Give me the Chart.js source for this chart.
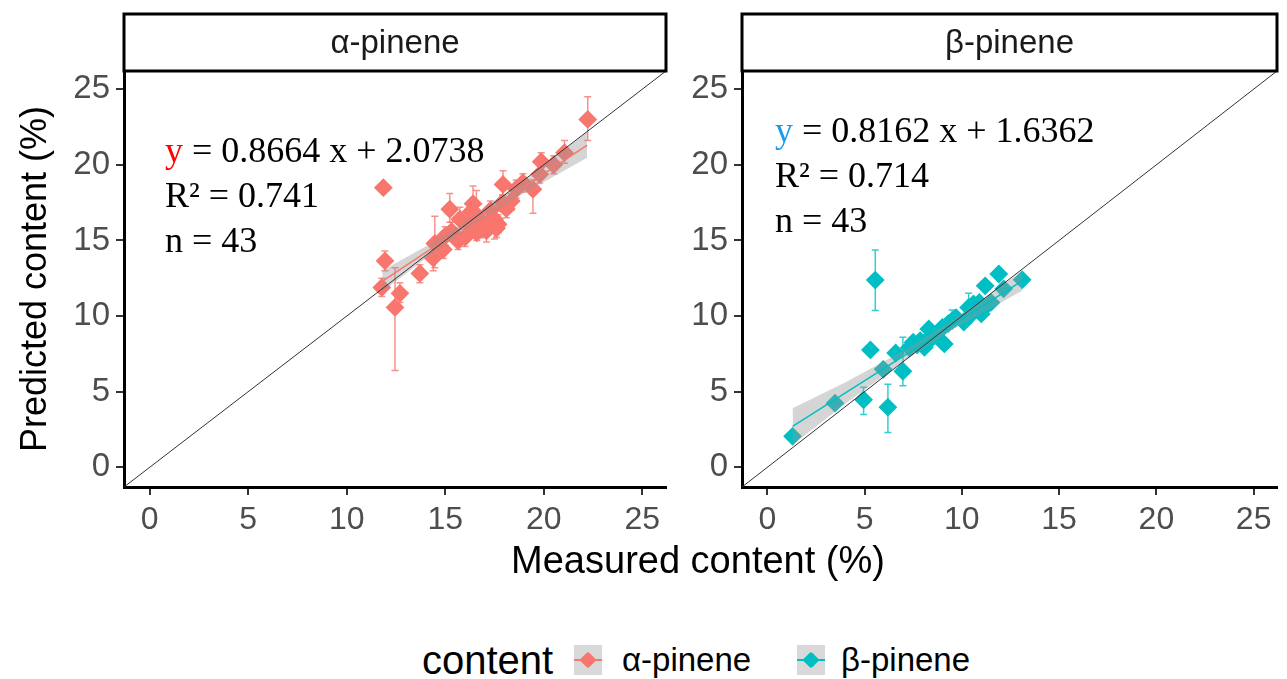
<!DOCTYPE html>
<html>
<head>
<meta charset="utf-8">
<script src="https://cdn.jsdelivr.net/npm/chart.js@4.4.0/dist/chart.umd.min.js"></script>
<style>
  body { margin: 0; background: #fff; width: 1287px; height: 679px; position: relative; overflow: hidden; font-family: 'Liberation Sans', Arial, sans-serif; }
  #wrapA { position: absolute; left: 0; top: 0; width: 680px; height: 550px; }
  #wrapB { position: absolute; left: 680px; top: 0; width: 607px; height: 550px; }
  #xtitle { position: absolute; left: 698px; top: 541px; transform: translateX(-50%); font-size: 38px; line-height: 38px; color: #000; white-space: nowrap; }
  .leg { position: absolute; top: 640px; line-height: 40px; white-space: nowrap; color: #000; }
  .key { position: absolute; top: 645px; width: 28px; height: 30px; background: #d9d9d9; }
  .key .ln { position: absolute; left: 0; right: 0; top: 14px; height: 2px; }
  .key .dm { position: absolute; left: 8px; top: 9px; width: 12px; height: 12px; border-radius: 2px; transform: rotate(45deg); }
</style>
</head>
<body>
<div id="wrapA"><canvas id="chartA"></canvas></div>
<div id="wrapB"><canvas id="chartB"></canvas></div>
<div id="xtitle">Measured content (%)</div>
<div class="leg" style="left:422px;font-size:40px;">content</div>
<div class="key" style="left:574px;"><div class="ln" style="background:#F8766D"></div><div class="dm" style="background:#F8766D"></div></div>
<div class="leg" style="left:622px;font-size:33px;">α-pinene</div>
<div class="key" style="left:797px;"><div class="ln" style="background:#00BFC4"></div><div class="dm" style="background:#00BFC4"></div></div>
<div class="leg" style="left:841px;font-size:33px;">β-pinene</div>
<script>
const tickVals = [0, 5, 10, 15, 20, 25];
const axisMin = -1.3;
const axisMax = 26.2;
const diagX = [-1.3, 26.2];

// α-pinene: measured, predicted, error bar low / high
const alphaX  = [11.86, 11.94, 11.78, 12.70, 12.45, 13.71, 14.39, 14.47, 15.23, 15.74, 15.32, 15.65, 16.00, 16.41, 16.58, 16.92, 17.26, 17.50, 17.09, 16.75, 17.68, 17.93, 18.35, 18.94, 19.45, 19.79, 19.87, 21.05, 22.23, 16.20, 17.90, 18.60, 15.00, 17.30, 16.60, 18.10, 20.50, 16.30, 14.90, 17.60];
const alphaY  = [18.49, 13.65, 11.89, 11.50, 10.57, 12.82, 13.83, 14.80, 17.06, 16.40, 15.60, 14.97, 15.20, 17.43, 16.70, 16.07, 16.30, 16.40, 15.63, 15.85, 16.07, 18.70, 17.60, 18.82, 18.38, 19.37, 20.20, 20.80, 23.00, 16.10, 17.50, 18.40, 15.30, 17.00, 15.50, 17.10, 20.00, 16.90, 14.40, 15.80];
const alphaLo = [18.49, 13.00, 11.30, 10.90, 6.40, 12.20, 13.00, 13.20, 16.20, 15.70, 15.00, 14.40, 14.60, 16.80, 16.00, 15.20, 15.50, 15.10, 14.90, 15.20, 15.50, 18.00, 17.00, 18.20, 16.80, 18.80, 19.60, 20.10, 21.60, 15.50, 16.90, 17.80, 14.70, 16.40, 15.00, 16.50, 19.40, 16.30, 13.80, 15.20];
const alphaHi = [18.49, 14.30, 12.50, 12.20, 13.20, 13.40, 14.60, 16.60, 18.10, 17.20, 16.20, 15.50, 15.80, 18.60, 18.30, 16.80, 17.00, 17.20, 16.30, 16.50, 16.70, 19.60, 18.10, 19.40, 19.00, 20.00, 20.80, 21.60, 24.50, 16.70, 18.00, 19.00, 15.90, 17.60, 16.00, 17.70, 20.60, 17.50, 15.00, 16.40];
const alphaFitX = [11.8, 22.2];
const alphaFitY = [12.3, 21.3];
const alphaBandX  = [11.8, 14.0, 16.5, 19.0, 22.2];
const alphaBandUp = [13.0, 14.6, 16.62, 18.94, 22.16];
const alphaBandLo = [11.6, 13.8, 16.12, 18.14, 20.46];

// β-pinene
const betaX  = [1.30, 3.48, 4.95, 6.20, 5.55, 5.30, 5.96, 6.60, 6.97, 7.50, 7.86, 8.30, 8.08, 7.70, 9.10, 9.00, 9.50, 10.10, 10.35, 10.60, 11.00, 11.10, 11.20, 11.90, 13.10, 12.15, 8.78, 9.70, 10.40, 8.50, 7.30, 10.90, 11.50, 9.30, 8.20];
const betaY  = [2.05, 4.24, 4.47, 3.98, 12.38, 7.76, 6.48, 7.56, 6.35, 8.27, 8.38, 9.15, 7.94, 8.10, 8.16, 9.25, 9.70, 9.60, 10.57, 10.80, 10.14, 10.47, 12.00, 12.78, 12.40, 11.80, 8.93, 9.90, 10.00, 8.60, 7.90, 10.90, 10.90, 9.50, 8.40];
const betaLo = [1.80, 4.00, 3.50, 2.30, 10.36, 7.60, 6.30, 7.30, 5.40, 7.90, 8.00, 8.80, 7.60, 7.80, 7.80, 8.90, 9.30, 9.30, 10.20, 10.50, 9.80, 10.10, 11.70, 12.50, 12.10, 11.50, 8.60, 9.60, 9.70, 8.30, 7.60, 10.60, 10.60, 9.20, 8.10];
const betaHi = [2.30, 4.50, 5.30, 5.50, 14.36, 7.90, 6.70, 7.80, 8.60, 8.60, 8.70, 9.50, 8.30, 8.40, 8.50, 9.60, 10.40, 9.90, 11.50, 11.10, 10.50, 10.80, 12.30, 13.10, 12.70, 12.10, 9.20, 10.20, 10.30, 8.90, 8.20, 11.20, 11.20, 9.80, 8.70];
const betaFitX = [1.3, 13.1];
const betaFitY = [2.70, 12.33];
const betaBandX  = [1.3, 4.0, 7.0, 9.5, 13.1];
const betaBandUp = [3.9, 5.6, 7.7, 9.69, 12.98];
const betaBandLo = [1.5, 4.2, 7.0, 9.09, 11.68];

const red = '#F8766D';
const teal = '#00BFC4';
const sans = "'Liberation Sans', Arial, sans-serif";

const pts = (xs, ys) => xs.map((x, i) => ({ x: x, y: ys[i] }));

// strip label above each panel
const stripPlugin = {
  id: 'strip',
  afterDraw(chart, args, opts) {
    const { ctx, chartArea } = chart;
    ctx.save();
    ctx.fillStyle = '#fff';
    ctx.strokeStyle = '#000';
    ctx.lineWidth = 3;
    ctx.fillRect(chartArea.left, 14, chartArea.right - chartArea.left, chartArea.top - 14);
    ctx.strokeRect(chartArea.left, 14, chartArea.right - chartArea.left, chartArea.top - 14);
    ctx.fillStyle = '#1a1a1a';
    ctx.font = '33px ' + sans;
    ctx.textAlign = 'center';
    ctx.textBaseline = 'middle';
    ctx.fillText(opts.text, (chartArea.left + chartArea.right) / 2, (14 + chartArea.top) / 2 + 1);
    ctx.restore();
  }
};

// vertical error bars with caps
const errPlugin = {
  id: 'errbars',
  beforeDatasetsDraw(chart) {
    const { ctx, scales } = chart;
    chart.data.datasets.forEach(ds => {
      if (!ds.errLo) return;
      ctx.save();
      ctx.strokeStyle = ds.borderColor;
      ctx.globalAlpha = 0.8;
      ctx.lineWidth = 1.5;
      ds.data.forEach((p, i) => {
        if (ds.errLo[i] === ds.errHi[i]) return;
        const px = scales.x.getPixelForValue(p.x);
        const y1 = scales.y.getPixelForValue(ds.errLo[i]);
        const y2 = scales.y.getPixelForValue(ds.errHi[i]);
        ctx.beginPath();
        ctx.moveTo(px, y1); ctx.lineTo(px, y2);
        ctx.moveTo(px - 3.5, y1); ctx.lineTo(px + 3.5, y1);
        ctx.moveTo(px - 3.5, y2); ctx.lineTo(px + 3.5, y2);
        ctx.stroke();
      });
      ctx.restore();
    });
  }
};

// regression equation text
const eqPlugin = {
  id: 'eq',
  afterDatasetsDraw(chart, args, opts) {
    const { ctx } = chart;
    ctx.save();
    ctx.font = "36px 'Liberation Serif', 'Times New Roman', serif";
    ctx.textBaseline = 'middle';
    ctx.textAlign = 'left';
    ctx.fillStyle = opts.yColor;
    ctx.fillText('y', opts.x, opts.y);
    const w = ctx.measureText('y').width;
    ctx.fillStyle = '#000';
    ctx.fillText(' = ' + opts.eq, opts.x + w, opts.y);
    ctx.fillText('R² = ' + opts.r2, opts.x, opts.y + 45);
    ctx.fillText('n = ' + opts.n, opts.x, opts.y + 90);
    ctx.restore();
  }
};

function makeChart(id, color, d, isLeft) {
  return new Chart(document.getElementById(id), {
    type: 'scatter',
    data: {
      datasets: [
        { data: pts(diagX, diagX), showLine: true, borderColor: '#333', borderWidth: 1, pointRadius: 0, order: 0 },
        { data: pts(d.fitX, d.fitY), showLine: true, borderColor: color, borderWidth: 1.5, pointRadius: 0, order: 1 },
        { data: pts(d.bandX, d.bandUp), showLine: true, borderWidth: 0, pointRadius: 0, fill: 3, backgroundColor: 'rgba(150,150,150,0.4)', order: 2 },
        { data: pts(d.bandX, d.bandLo), showLine: true, borderWidth: 0, pointRadius: 0, order: 3 },
        { data: pts(d.x, d.y), errLo: d.lo, errHi: d.hi, pointStyle: 'rectRot', pointRadius: 8, backgroundColor: color, borderColor: color, borderWidth: 2, order: 4 }
      ]
    },
    options: {
      responsive: true,
      maintainAspectRatio: false,
      animation: false,
      layout: { padding: { top: 71, right: isLeft ? 14 : 5, left: 0, bottom: 0 } },
      elements: { point: { borderJoinStyle: 'round' } },
      plugins: {
        legend: { display: false },
        tooltip: { enabled: false },
        strip: { text: d.name },
        eq: { x: d.eqX, y: d.eqY, yColor: d.eqColor, eq: d.eq, r2: d.r2, n: d.n }
      },
      scales: {
        x: {
          type: 'linear', min: axisMin, max: axisMax,
          afterBuildTicks: s => { s.ticks = tickVals.map(v => ({ value: v })); },
          afterFit: s => { s.height = 63; },
          grid: { drawOnChartArea: false, tickLength: 8, color: '#333', lineWidth: 2 },
          border: { color: '#000', width: 3 },
          ticks: { color: '#4d4d4d', padding: 6, font: { size: 32, family: sans } }
        },
        y: {
          type: 'linear', min: axisMin, max: axisMax,
          afterBuildTicks: s => { s.ticks = tickVals.map(v => ({ value: v })); },
          afterFit: s => { s.width = isLeft ? 124 : 62; },
          grid: { drawOnChartArea: false, tickLength: 8, color: '#333', lineWidth: 2 },
          border: { color: '#000', width: 3 },
          ticks: { color: '#4d4d4d', padding: 6, font: { size: 33, family: sans } },
          title: { display: isLeft, text: 'Predicted content (%)', color: '#000', font: { size: 36, family: sans }, padding: { top: 14, bottom: 0 } }
        }
      }
    },
    plugins: [stripPlugin, errPlugin, eqPlugin]
  });
}

makeChart('chartA', red, {
  name: 'α-pinene', x: alphaX, y: alphaY, lo: alphaLo, hi: alphaHi,
  fitX: alphaFitX, fitY: alphaFitY, bandX: alphaBandX, bandUp: alphaBandUp, bandLo: alphaBandLo,
  eqX: 165, eqY: 153, eqColor: '#ff0000', eq: '0.8664 x + 2.0738', r2: '0.741', n: '43'
}, true);

makeChart('chartB', teal, {
  name: 'β-pinene', x: betaX, y: betaY, lo: betaLo, hi: betaHi,
  fitX: betaFitX, fitY: betaFitY, bandX: betaBandX, bandUp: betaBandUp, bandLo: betaBandLo,
  eqX: 95, eqY: 133, eqColor: '#1e9be8', eq: '0.8162 x + 1.6362', r2: '0.714', n: '43'
}, false);
</script>
</body>
</html>
